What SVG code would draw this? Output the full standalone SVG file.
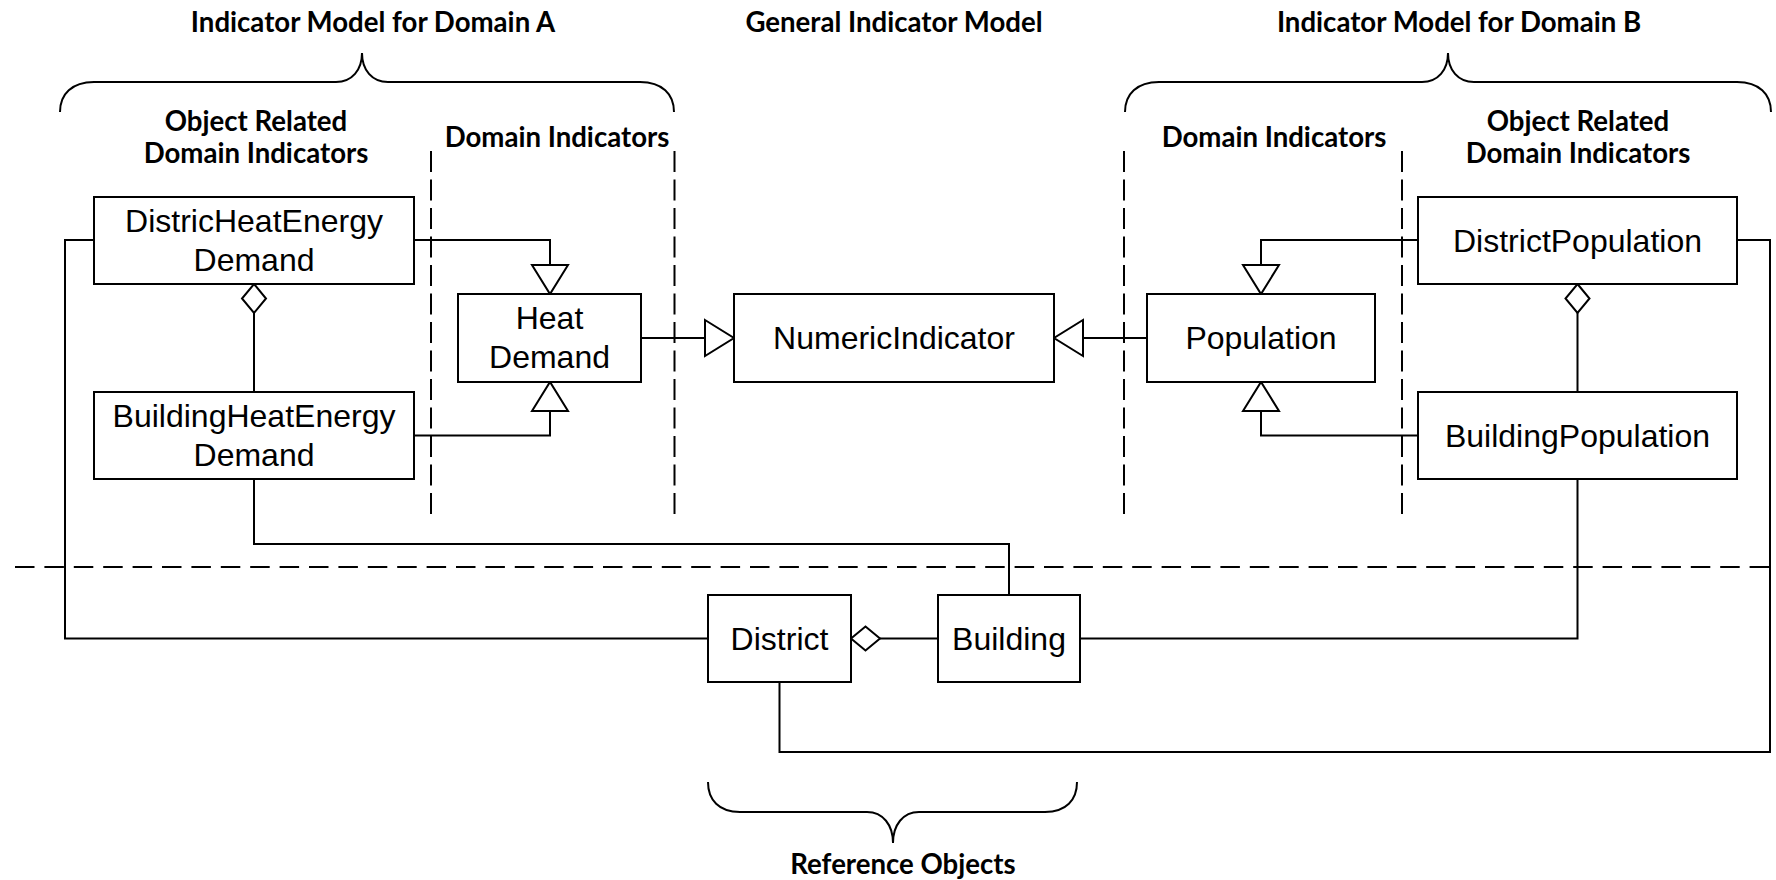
<svg xmlns="http://www.w3.org/2000/svg" width="1776" height="880" viewBox="0 0 1776 880">
<style>
  .box { fill: #fff; stroke: #000; stroke-width: 2; }
  .lbl { font-family: "Liberation Sans", Arial, sans-serif; font-size: 32px; fill: #000; text-anchor: middle; }
  .hdr { font-family: Lato, "Liberation Sans", sans-serif; font-weight: bold; font-size: 27.6px; fill: #000; text-anchor: middle; }
  .con { fill: none; stroke: #000; stroke-width: 2; }
  .dash { fill: none; stroke: #000; stroke-width: 2; }
  .brace { fill: none; stroke: #000; stroke-width: 2; }
</style>
<defs>
  <marker id="gen" markerUnits="userSpaceOnUse" markerWidth="32" markerHeight="40" viewBox="-1 -1 32 40" refX="29" refY="18" orient="auto" overflow="visible">
    <path d="M0,0 L29,18 L0,36 Z" fill="#fff" stroke="#000" stroke-width="2"/>
  </marker>
  <marker id="agg" markerUnits="userSpaceOnUse" markerWidth="32" markerHeight="28" viewBox="-1 -1 32 28" refX="0" refY="12" orient="auto" overflow="visible">
    <path d="M0,12 L14.5,0 L29,12 L14.5,24 Z" fill="#fff" stroke="#000" stroke-width="2"/>
  </marker>
</defs>
<rect width="1776" height="880" fill="#fff"/>

<!-- section headers and braces -->
<g id="headers">
  <text class="hdr" x="373" y="32">Indicator Model for Domain A</text>
  <text class="hdr" x="894" y="32">General Indicator Model</text>
  <text class="hdr" x="1459" y="32">Indicator Model for Domain B</text>
  <text class="hdr" x="256" y="131">Object Related</text>
  <text class="hdr" x="256" y="163">Domain Indicators</text>
  <text class="hdr" x="557" y="147">Domain Indicators</text>
  <text class="hdr" x="1274" y="147">Domain Indicators</text>
  <text class="hdr" x="1578" y="131">Object Related</text>
  <text class="hdr" x="1578" y="163">Domain Indicators</text>
  <text class="hdr" x="903" y="874">Reference Objects</text>
</g>
<g id="braces">
  <path class="brace" d="M60,112 C60,94 72,82 94,82 L336,82 C352,82 362,70 362,53 C362,70 372,82 388,82 L640,82 C662,82 674,94 674,112"/>
  <path class="brace" d="M1125,112 C1125,94 1137,82 1159,82 L1422,82 C1438,82 1448,70 1448,53 C1448,70 1458,82 1474,82 L1737,82 C1759,82 1771,94 1771,112"/>
  <path class="brace" d="M708,782 C708,800 719,812 740,812 L867,812 C883,812 893,825 893,843 C893,825 903,812 919,812 L1045,812 C1066,812 1077,800 1077,782"/>
</g>

<!-- swimlane dashed separators -->
<g id="separators">
  <line class="dash" x1="431" y1="151" x2="431" y2="518" stroke-dasharray="21 7.5"/>
  <line class="dash" x1="674.5" y1="151" x2="674.5" y2="518" stroke-dasharray="21 7.5"/>
  <line class="dash" x1="1124" y1="151" x2="1124" y2="518" stroke-dasharray="21 7.5"/>
  <line class="dash" x1="1402" y1="151" x2="1402" y2="518" stroke-dasharray="21 7.5"/>
  <line class="dash" x1="15" y1="567" x2="1769" y2="567" stroke-dasharray="19.5 9.9"/>
</g>

<!-- connectors -->
<g id="connectors">
  <path class="con" d="M413,240 H550 V294" marker-end="url(#gen)"/>
  <path class="con" d="M413,435.5 H550 V382" marker-end="url(#gen)"/>
  <path class="con" d="M641,338 H734" marker-end="url(#gen)"/>
  <path class="con" d="M1147,338 H1054" marker-end="url(#gen)"/>
  <path class="con" d="M1418,240 H1261 V294" marker-end="url(#gen)"/>
  <path class="con" d="M1418,435.5 H1261 V382" marker-end="url(#gen)"/>
  <path class="con" d="M254,284 V392" marker-start="url(#agg)"/>
  <path class="con" d="M1577.5,284 V392" marker-start="url(#agg)"/>
  <path class="con" d="M851,638.5 H938" marker-start="url(#agg)"/>
  <path class="con" d="M254,479 V544 H1009 V595"/>
  <path class="con" d="M94,240 H65 V638.5 H708"/>
  <path class="con" d="M1080,638.5 H1577.5 V479"/>
  <path class="con" d="M779.5,682 V752 H1770 V240 H1737"/>
</g>

<!-- nodes -->
<g id="node-districHeatEnergyDemand">
  <rect class="box" x="94" y="197" width="320" height="87"/>
  <text class="lbl" x="254" y="232">DistricHeatEnergy</text>
  <text class="lbl" x="254" y="271">Demand</text>
</g>
<g id="node-buildingHeatEnergyDemand">
  <rect class="box" x="94" y="392" width="320" height="87"/>
  <text class="lbl" x="254" y="427">BuildingHeatEnergy</text>
  <text class="lbl" x="254" y="466">Demand</text>
</g>
<g id="node-heatDemand">
  <rect class="box" x="458" y="294" width="183" height="88"/>
  <text class="lbl" x="549.5" y="329">Heat</text>
  <text class="lbl" x="549.5" y="368">Demand</text>
</g>
<g id="node-numericIndicator">
  <rect class="box" x="734" y="294" width="320" height="88"/>
  <text class="lbl" x="894" y="349">NumericIndicator</text>
</g>
<g id="node-population">
  <rect class="box" x="1147" y="294" width="228" height="88"/>
  <text class="lbl" x="1261" y="349">Population</text>
</g>
<g id="node-districtPopulation">
  <rect class="box" x="1418" y="197" width="319" height="87"/>
  <text class="lbl" x="1577.5" y="251.5">DistrictPopulation</text>
</g>
<g id="node-buildingPopulation">
  <rect class="box" x="1418" y="392" width="319" height="87"/>
  <text class="lbl" x="1577.5" y="446.5">BuildingPopulation</text>
</g>
<g id="node-district">
  <rect class="box" x="708" y="595" width="143" height="87"/>
  <text class="lbl" x="779.5" y="649.5">District</text>
</g>
<g id="node-building">
  <rect class="box" x="938" y="595" width="142" height="87"/>
  <text class="lbl" x="1009" y="649.5">Building</text>
</g>
</svg>
